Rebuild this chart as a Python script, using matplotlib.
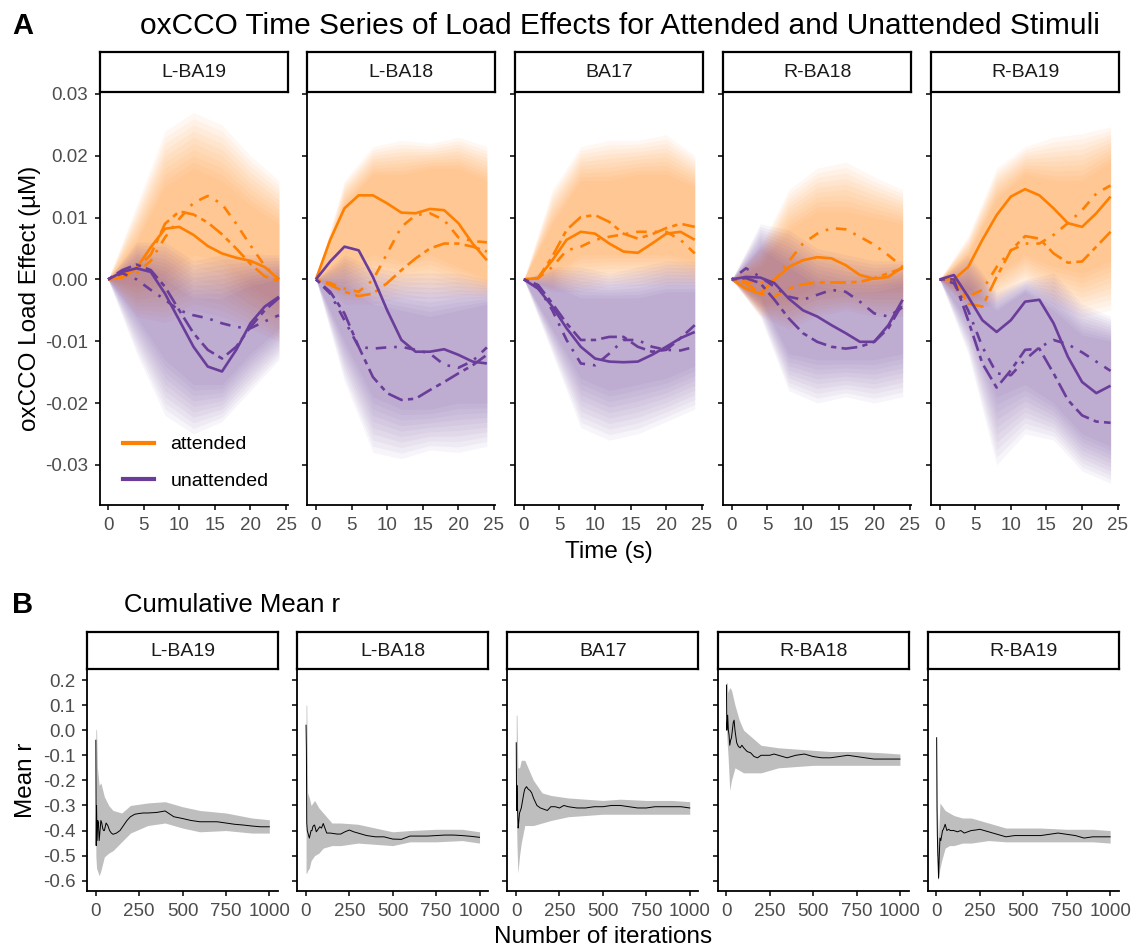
import numpy as np
import matplotlib.pyplot as plt
from matplotlib.lines import Line2D

plt.rcParams['font.family'] = ['Liberation Sans', 'DejaVu Sans']
plt.rcParams['axes.unicode_minus'] = False

# ---------------- data : panel A (oxCCO load effect, uM) ----------------
regions = ['L-BA19', 'L-BA18', 'BA17', 'R-BA18', 'R-BA19']
time_s = [0, 2, 4, 6, 8, 10, 12, 14, 16, 18, 20, 22, 24]

att_solid = [
    [0, 0.0003, 0.0018, 0.0052, 0.0082, 0.0085, 0.0072, 0.0054, 0.0042, 0.0035, 0.0030, 0.0020, 0.0],
    [0, 0.0064, 0.0115, 0.0136, 0.0136, 0.0123, 0.0108, 0.0107, 0.0114, 0.0112, 0.0091, 0.0058, 0.0031],
    [0, 0.0002, 0.0031, 0.0064, 0.0077, 0.0074, 0.0058, 0.0045, 0.0043, 0.0058, 0.0074, 0.0077, 0.0064],
    [0, -0.0015, -0.0023, -0.0001, 0.0020, 0.0031, 0.0036, 0.0034, 0.0023, 0.0007, 0.0001, 0.0004, 0.0020],
    [0, 0.0, 0.0020, 0.0064, 0.0104, 0.0134, 0.0146, 0.0136, 0.0115, 0.0091, 0.0085, 0.0107, 0.0134],
]
att_dash = [
    [0, 0.0008, 0.0018, 0.0040, 0.0090, 0.0110, 0.0105, 0.0092, 0.0073, 0.0050, 0.0025, 0.0005, -0.0003],
    [0, -0.0009, -0.0020, -0.0027, -0.0023, -0.0006, 0.0015, 0.0034, 0.0050, 0.0058, 0.0058, 0.0053, 0.0045],
    [0, 0.0002, 0.0037, 0.0080, 0.0101, 0.0104, 0.0093, 0.0074, 0.0066, 0.0073, 0.0083, 0.0090, 0.0085],
    [0, -0.0006, -0.0023, -0.0028, -0.0015, -0.0008, -0.0005, -0.0005, -0.0005, -0.0004, 0.0002, 0.0010, 0.0018],
    [0, 0.0, -0.0039, -0.0044, 0.0004, 0.0047, 0.0070, 0.0066, 0.0042, 0.0027, 0.0029, 0.0053, 0.0077],
]
att_dot = [
    [0, 0.0005, 0.0010, 0.0030, 0.0068, 0.0098, 0.0124, 0.0135, 0.0122, 0.0090, 0.0055, 0.0022, 0.0],
    [0, -0.0006, -0.0015, -0.0020, -0.0001, 0.0042, 0.0085, 0.0104, 0.0107, 0.0096, 0.0068, 0.0062, 0.0060],
    [0, 0.0002, 0.0020, 0.0047, 0.0053, 0.0064, 0.0069, 0.0073, 0.0077, 0.0077, 0.0077, 0.0064, 0.0042],
    [0, -0.0004, -0.0006, -0.0001, 0.0029, 0.0058, 0.0074, 0.0083, 0.0081, 0.0069, 0.0056, 0.0039, 0.0020],
    [0, -0.0004, -0.0028, -0.0017, 0.0020, 0.0047, 0.0058, 0.0058, 0.0072, 0.0091, 0.0112, 0.0139, 0.0152],
]
unatt_solid = [
    [0, 0.0012, 0.0018, 0.0012, -0.0023, -0.0066, -0.0109, -0.0141, -0.0149, -0.0114, -0.0071, -0.0044, -0.0028],
    [0, 0.0029, 0.0053, 0.0047, 0.0004, -0.0050, -0.0098, -0.0117, -0.0117, -0.0113, -0.0122, -0.0133, -0.0136],
    [0, -0.0015, -0.0044, -0.0079, -0.0109, -0.0128, -0.0133, -0.0134, -0.0133, -0.0122, -0.0109, -0.0095, -0.0085],
    [0, 0.0004, 0.0003, -0.0006, -0.0031, -0.0050, -0.0060, -0.0074, -0.0087, -0.0101, -0.0101, -0.0074, -0.0033],
    [0, 0.0007, -0.0028, -0.0066, -0.0085, -0.0066, -0.0036, -0.0033, -0.0071, -0.0125, -0.0166, -0.0184, -0.0172],
]
unatt_dash = [
    [0, 0.0015, 0.0024, 0.0015, -0.0012, -0.0050, -0.0087, -0.0114, -0.0128, -0.0109, -0.0077, -0.0050, -0.0030],
    [0, -0.0020, -0.0055, -0.0109, -0.0158, -0.0184, -0.0195, -0.0193, -0.0179, -0.0166, -0.0152, -0.0139, -0.0122],
    [0, -0.0009, -0.0039, -0.0071, -0.0098, -0.0098, -0.0093, -0.0093, -0.0109, -0.0117, -0.0114, -0.0095, -0.0074],
    [0, 0.0002, -0.0006, -0.0033, -0.0063, -0.0087, -0.0101, -0.0109, -0.0112, -0.0109, -0.0101, -0.0079, -0.0039],
    [0, 0.0, -0.0066, -0.0136, -0.0175, -0.0147, -0.0114, -0.0112, -0.0152, -0.0195, -0.0220, -0.0230, -0.0232],
]
unatt_dot = [
    [0, 0.0010, 0.0, -0.0017, -0.0033, -0.0050, -0.0058, -0.0063, -0.0071, -0.0077, -0.0079, -0.0068, -0.0058],
    [0, -0.0023, -0.0066, -0.0109, -0.0112, -0.0110, -0.0109, -0.0114, -0.0120, -0.0138, -0.0143, -0.0132, -0.0110],
    [0, -0.0012, -0.0050, -0.0098, -0.0136, -0.0139, -0.0120, -0.0098, -0.0098, -0.0109, -0.0114, -0.0115, -0.0109],
    [0, 0.0018, 0.0004, -0.0012, -0.0028, -0.0033, -0.0025, -0.0017, -0.0020, -0.0036, -0.0055, -0.0060, -0.0045],
    [0, -0.0006, -0.0050, -0.0109, -0.0152, -0.0155, -0.0130, -0.0110, -0.0098, -0.0105, -0.0118, -0.0133, -0.0148],
]

# spread of the bootstrap traces (outer = faint edge, inner = dense core)
env_t = [0, 4, 8, 12, 16, 20, 24]
att_out_hi = [[0, 0.012, 0.024, 0.027, 0.025, 0.020, 0.016],
              [0, 0.016, 0.0215, 0.0225, 0.022, 0.023, 0.0215],
              [0, 0.0145, 0.0215, 0.0225, 0.0225, 0.0234, 0.020],
              [0, 0.0053, 0.0145, 0.018, 0.019, 0.0166, 0.0145],
              [0, 0.007, 0.018, 0.0215, 0.023, 0.0236, 0.0247]]
att_out_lo = [[0, -0.006, -0.007, -0.005, -0.006, -0.008, -0.010],
              [0, -0.004, -0.004, -0.003, -0.003, -0.003, -0.003],
              [0, -0.002, -0.002, -0.001, -0.001, -0.001, -0.001],
              [0, -0.006, -0.008, -0.006, -0.005, -0.006, -0.006],
              [0, -0.005, -0.004, -0.001, -0.004, -0.006, -0.005]]
att_in_hi = [[0, 0.006, 0.015, 0.018, 0.016, 0.012, 0.009],
             [0, 0.012, 0.017, 0.017, 0.018, 0.018, 0.016],
             [0, 0.009, 0.016, 0.016, 0.017, 0.017, 0.015],
             [0, 0.002, 0.008, 0.011, 0.011, 0.010, 0.009],
             [0, 0.004, 0.013, 0.017, 0.016, 0.016, 0.019]]
att_in_lo = [[0, -0.001, 0.001, 0.004, 0.003, -0.001, -0.004],
             [0, 0.002, 0.004, 0.003, 0.004, 0.002, 0.0],
             [0, 0.001, 0.004, 0.004, 0.004, 0.004, 0.003],
             [0, -0.004, -0.003, -0.001, -0.001, -0.001, -0.001],
             [0, -0.002, 0.001, 0.004, 0.002, 0.001, 0.003]]
un_out_hi = [[0, 0.006, 0.006, 0.003, 0.004, 0.004, 0.004],
             [0, 0.004, 0.002, 0.001, 0.001, 0.001, 0.0],
             [0, 0.002, 0.002, 0.001, 0.002, 0.003, 0.003],
             [0, 0.009, 0.008, 0.005, 0.004, 0.003, 0.003],
             [0, 0.004, -0.002, 0.0, 0.001, -0.004, -0.006]]
un_out_lo = [[0, -0.012, -0.022, -0.025, -0.023, -0.018, -0.013],
             [0, -0.0165, -0.028, -0.029, -0.0276, -0.028, -0.027],
             [0, -0.012, -0.024, -0.026, -0.025, -0.023, -0.021],
             [0, -0.006, -0.018, -0.020, -0.019, -0.020, -0.019],
             [0, -0.012, -0.030, -0.025, -0.026, -0.031, -0.033]]
un_in_hi = [[0, 0.002, 0.0, -0.003, -0.003, -0.001, 0.0],
            [0, -0.001, -0.004, -0.005, -0.006, -0.005, -0.004],
            [0, -0.001, -0.003, -0.003, -0.003, -0.002, -0.002],
            [0, 0.005, 0.002, -0.001, -0.002, -0.002, -0.001],
            [0, -0.001, -0.005, -0.002, -0.005, -0.009, -0.010]]
un_in_lo = [[0, -0.006, -0.013, -0.017, -0.017, -0.012, -0.008],
            [0, -0.010, -0.019, -0.021, -0.021, -0.020, -0.020],
            [0, -0.008, -0.016, -0.018, -0.017, -0.016, -0.014],
            [0, -0.003, -0.012, -0.013, -0.013, -0.013, -0.012],
            [0, -0.007, -0.019, -0.017, -0.020, -0.025, -0.027]]

# ---------------- data : panel B (cumulative mean r) ----------------
iters = [1, 3, 5, 8, 12, 16, 20, 25, 30, 35, 40, 45, 50, 60, 70, 80, 90, 100, 120, 140, 160,
         180, 200, 225, 250, 275, 300, 350, 400, 450, 500, 550, 600, 650, 700, 750, 800, 850,
         900, 950, 1000]
mean_r = [
    [-0.04, -0.46, -0.30, -0.44, -0.36, -0.37, -0.44, -0.40, -0.36, -0.37, -0.39, -0.40, -0.40,
     -0.37, -0.38, -0.40, -0.41, -0.415, -0.41, -0.40, -0.38, -0.36, -0.345, -0.335, -0.332,
     -0.33, -0.33, -0.328, -0.322, -0.345, -0.352, -0.36, -0.365, -0.365, -0.365, -0.37,
     -0.375, -0.378, -0.382, -0.385, -0.385],
    [0.02, -0.08, -0.37, -0.40, -0.41, -0.42, -0.43, -0.415, -0.40, -0.40, -0.385, -0.38, -0.378,
     -0.405, -0.395, -0.385, -0.39, -0.372, -0.41, -0.41, -0.412, -0.414, -0.414, -0.405, -0.398,
     -0.405, -0.41, -0.42, -0.425, -0.425, -0.434, -0.435, -0.422, -0.422, -0.422, -0.42,
     -0.418, -0.418, -0.42, -0.423, -0.427],
    [-0.05, -0.32, -0.22, -0.30, -0.39, -0.36, -0.33, -0.32, -0.31, -0.29, -0.27, -0.25, -0.235,
     -0.225, -0.235, -0.24, -0.25, -0.27, -0.30, -0.31, -0.315, -0.32, -0.305, -0.305, -0.31,
     -0.30, -0.305, -0.31, -0.31, -0.305, -0.305, -0.30, -0.30, -0.305, -0.31, -0.31, -0.305,
     -0.305, -0.305, -0.305, -0.31],
    [0.18, 0.0, 0.02, 0.06, 0.0, -0.02, -0.06, -0.04, -0.03, 0.0, 0.03, 0.04, 0.0, -0.05, -0.065,
     -0.07, -0.06, -0.07, -0.085, -0.09, -0.105, -0.11, -0.10, -0.10, -0.10, -0.095, -0.10,
     -0.11, -0.10, -0.095, -0.105, -0.11, -0.11, -0.105, -0.10, -0.105, -0.11, -0.115, -0.115,
     -0.115, -0.115],
    [-0.03, -0.31, -0.42, -0.50, -0.59, -0.50, -0.43, -0.44, -0.42, -0.40, -0.395, -0.385, -0.375,
     -0.40, -0.395, -0.40, -0.40, -0.40, -0.405, -0.40, -0.41, -0.405, -0.40, -0.398, -0.395,
     -0.40, -0.405, -0.415, -0.425, -0.42, -0.42, -0.42, -0.42, -0.415, -0.41, -0.415, -0.42,
     -0.43, -0.425, -0.425, -0.425],
]
band_iters = [1, 5, 10, 20, 30, 50, 75, 100, 150, 200, 300, 400, 500, 600, 750, 900, 1000]
band_hi = [
    [0.0, 0.005, -0.15, -0.22, -0.21, -0.265, -0.30, -0.32, -0.33, -0.30, -0.29, -0.285, -0.305, -0.32, -0.33, -0.35, -0.357],
    [0.10, 0.10, -0.25, -0.27, -0.30, -0.28, -0.31, -0.33, -0.37, -0.37, -0.375, -0.39, -0.405, -0.40, -0.395, -0.395, -0.405],
    [0.06, 0.06, -0.15, -0.15, -0.12, -0.12, -0.16, -0.20, -0.25, -0.26, -0.27, -0.275, -0.28, -0.275, -0.28, -0.28, -0.285],
    [0.19, 0.19, 0.15, 0.17, 0.16, 0.10, 0.04, 0.0, -0.03, -0.06, -0.07, -0.075, -0.08, -0.085, -0.085, -0.09, -0.095],
    [-0.03, -0.30, -0.45, -0.29, -0.30, -0.32, -0.33, -0.34, -0.35, -0.35, -0.37, -0.39, -0.39, -0.39, -0.395, -0.395, -0.40],
]
band_lo = [
    [-0.50, -0.55, -0.56, -0.58, -0.56, -0.505, -0.49, -0.48, -0.445, -0.41, -0.38, -0.37, -0.39, -0.405, -0.40, -0.41, -0.41],
    [-0.57, -0.57, -0.56, -0.55, -0.52, -0.50, -0.49, -0.47, -0.46, -0.46, -0.45, -0.455, -0.46, -0.445, -0.445, -0.44, -0.45],
    [-0.30, -0.45, -0.57, -0.50, -0.45, -0.38, -0.38, -0.38, -0.37, -0.36, -0.345, -0.34, -0.335, -0.335, -0.335, -0.335, -0.335],
    [0.0, -0.05, -0.10, -0.24, -0.20, -0.15, -0.16, -0.17, -0.17, -0.17, -0.15, -0.145, -0.14, -0.14, -0.14, -0.14, -0.14],
    [-0.50, -0.50, -0.60, -0.55, -0.52, -0.47, -0.46, -0.46, -0.45, -0.45, -0.44, -0.445, -0.445, -0.445, -0.445, -0.445, -0.45],
]

# ---------------- styling ----------------
ORANGE = '#FF7F00'
PURPLE = '#6A3D9A'
TICK_COL = '#4D4D4D'
W, H = 1137, 949
LW = 1.9
TWODASH = (0, (2, 2, 6, 2))
DOTDASH = (0, (1, 3, 4, 3))


def box(left, top, width, height):
    return [left / W, 1 - (top + height) / H, width / W, height / H]


def style_axes(ax):
    for side in ['top', 'right']:
        ax.spines[side].set_visible(False)
    for side in ['left', 'bottom']:
        ax.spines[side].set_linewidth(1.3)
        ax.spines[side].set_color('black')
    ax.tick_params(length=3.8, width=1.1, color='black', labelcolor=TICK_COL,
                   labelsize=13.5, pad=4.5)


def add_strip(left, top, width, height, label):
    sax = fig.add_axes(box(left, top, width, height))
    sax.set_xticks([])
    sax.set_yticks([])
    for sp in sax.spines.values():
        sp.set_linewidth(1.6)
        sp.set_color('black')
    sax.text(0.5, 0.48, label, ha='center', va='center', fontsize=14,
             color='#1A1A1A', transform=sax.transAxes)


def spread(ax, t, out_lo, out_hi, in_lo, in_hi, color, layers=10, alpha=0.05):
    out_lo, out_hi = np.array(out_lo), np.array(out_hi)
    in_lo, in_hi = np.array(in_lo), np.array(in_hi)
    for k in range(layers):
        f = k / (layers - 1)
        ax.fill_between(t, out_lo + (in_lo - out_lo) * f, out_hi + (in_hi - out_hi) * f,
                        color=color, alpha=alpha, lw=0)


fig = plt.figure(figsize=(W / 100, H / 100), dpi=100)

# ---------------- panel A ----------------
for i, name in enumerate(regions):
    left = 99.5 + 207.9 * i
    ax = fig.add_axes(box(left, 91.5, 188, 413.5))
    spread(ax, env_t, att_out_lo[i], att_out_hi[i], att_in_lo[i], att_in_hi[i], ORANGE)
    spread(ax, env_t, un_out_lo[i], un_out_hi[i], un_in_lo[i], un_in_hi[i], PURPLE)
    ax.plot(time_s, att_solid[i], color=ORANGE, lw=LW, solid_capstyle='butt')
    ax.plot(time_s, att_dash[i], color=ORANGE, lw=LW, ls=TWODASH, dash_capstyle='butt')
    ax.plot(time_s, att_dot[i], color=ORANGE, lw=LW, ls=DOTDASH, dash_capstyle='butt')
    ax.plot(time_s, unatt_solid[i], color=PURPLE, lw=LW, solid_capstyle='butt')
    ax.plot(time_s, unatt_dash[i], color=PURPLE, lw=LW, ls=TWODASH, dash_capstyle='butt')
    ax.plot(time_s, unatt_dot[i], color=PURPLE, lw=LW, ls=DOTDASH, dash_capstyle='butt')
    ax.set_xlim(-1.2, 25.2)
    ax.set_ylim(-0.0365, 0.0304)
    ax.set_xticks([0, 5, 10, 15, 20, 25])
    ax.set_yticks([-0.03, -0.02, -0.01, 0.0, 0.01, 0.02, 0.03])
    style_axes(ax)
    if i == 0:
        ax.set_yticklabels(['-0.03', '-0.02', '-0.01', '0.00', '0.01', '0.02', '0.03'])
        handles = [Line2D([], [], color=ORANGE, lw=3),
                   Line2D([], [], color=PURPLE, lw=3)]
        ax.legend(handles, ['attended', 'unattended'], loc='lower left',
                  bbox_to_anchor=(0.03, -0.005), frameon=False, fontsize=14,
                  handlelength=1.6, handletextpad=0.85, labelspacing=0.95)
    else:
        ax.set_yticklabels([])
    add_strip(left, 52, 188, 39.5, name)

# ---------------- panel B ----------------
for i, name in enumerate(regions):
    left = 87 + 210.2 * i
    ax = fig.add_axes(box(left, 669, 191, 222))
    ax.fill_between(band_iters, band_lo[i], band_hi[i], color='#BEBEBE', lw=0)
    ax.plot(iters, mean_r[i], color='black', lw=0.7)
    ax.set_xlim(-50, 1050)
    ax.set_ylim(-0.641, 0.244)
    ax.set_xticks([0, 250, 500, 750, 1000])
    ax.set_yticks([0.2, 0.1, 0.0, -0.1, -0.2, -0.3, -0.4, -0.5, -0.6])
    style_axes(ax)
    if i == 0:
        ax.set_yticklabels(['0.2', '0.1', '0.0', '-0.1', '-0.2', '-0.3', '-0.4', '-0.5', '-0.6'])
    else:
        ax.set_yticklabels([])
    add_strip(left, 632, 191, 37, name)

# ---------------- titles and labels ----------------
def ftext(x, y, s, **kw):
    fig.text(x / W, 1 - y / H, s, **kw)

ftext(12, 26, 'A', fontsize=21, fontweight='bold', va='center', ha='left')
ftext(620, 26, 'oxCCO Time Series of Load Effects for Attended and Unattended Stimuli',
      fontsize=21.5, va='center', ha='center')
ftext(30, 298, 'oxCCO Load Effect (\u00b5M)', fontsize=17.5, rotation=90, va='center', ha='center')
ftext(609, 552, 'Time (s)', fontsize=17.5, va='center', ha='center')

ftext(12, 605, 'B', fontsize=21, fontweight='bold', va='center', ha='left')
ftext(124, 605, 'Cumulative Mean r', fontsize=18.5, va='center', ha='left')
ftext(26, 780, 'Mean r', fontsize=17.5, rotation=90, va='center', ha='center')
ftext(603, 937, 'Number of iterations', fontsize=17.5, va='center', ha='center')

fig.savefig('out.png', dpi=100)
